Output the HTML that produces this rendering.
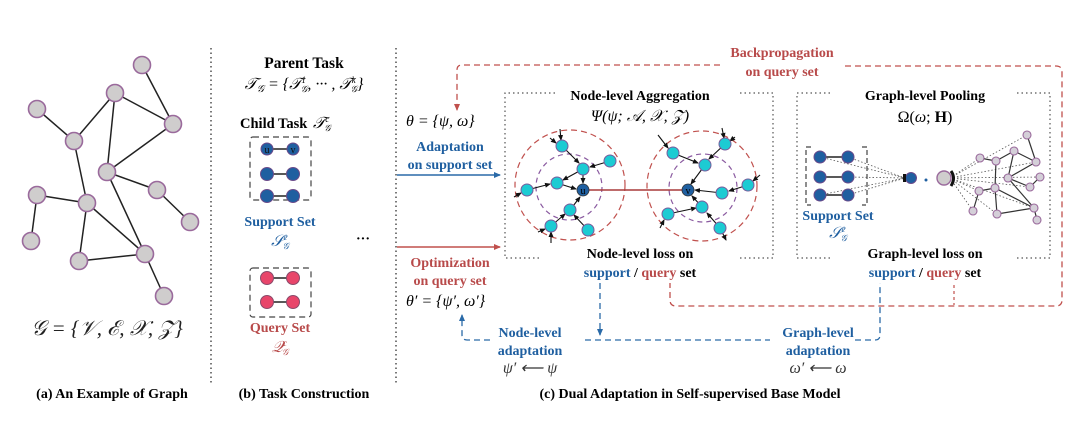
<!DOCTYPE html>
<html><head><meta charset="utf-8"><style>
html,body{margin:0;padding:0;background:#fff;}
svg{display:block;font-family:"Liberation Serif",serif;}
.b{font-weight:bold;font-size:14px;}
.m{font-style:italic;font-size:16px;}
</style></head><body>
<svg width="1080" height="423" viewBox="0 0 1080 423" xmlns="http://www.w3.org/2000/svg">
<defs>
<marker id="ak" markerWidth="6" markerHeight="6" refX="5" refY="3" orient="auto" markerUnits="userSpaceOnUse"><path d="M0,0.5 L6,3 L0,5.5z" fill="#111"/></marker>
<marker id="ab" markerWidth="7" markerHeight="7" refX="6" refY="3.5" orient="auto" markerUnits="userSpaceOnUse"><path d="M0,0.5 L7,3.5 L0,6.5z" fill="#2a6aa8"/></marker>
<marker id="ar" markerWidth="7" markerHeight="7" refX="6" refY="3.5" orient="auto" markerUnits="userSpaceOnUse"><path d="M0,0.5 L7,3.5 L0,6.5z" fill="#c0504d"/></marker>
</defs>

<line x1="211" y1="48" x2="211" y2="385" stroke="#333" stroke-width="1.3" stroke-dasharray="1.5,3"/>
<line x1="396" y1="48" x2="396" y2="385" stroke="#333" stroke-width="1.3" stroke-dasharray="1.5,3"/>

<g stroke="#222" stroke-width="1.5">
<line x1="142" y1="65" x2="173" y2="124"/><line x1="115" y1="93" x2="173" y2="124"/><line x1="115" y1="93" x2="74" y2="141"/><line x1="115" y1="93" x2="107" y2="172"/><line x1="37" y1="109" x2="74" y2="141"/><line x1="74" y1="141" x2="87" y2="203"/><line x1="107" y1="172" x2="173" y2="124"/><line x1="107" y1="172" x2="157" y2="190"/><line x1="157" y1="190" x2="190" y2="222"/><line x1="107" y1="172" x2="145" y2="254"/><line x1="37" y1="195" x2="87" y2="203"/><line x1="37" y1="195" x2="31" y2="241"/><line x1="87" y1="203" x2="145" y2="254"/><line x1="87" y1="203" x2="79" y2="261"/><line x1="79" y1="261" x2="145" y2="254"/><line x1="145" y1="254" x2="164" y2="296"/>
</g>
<g fill="#cfcdcd" stroke="#9a6a9c" stroke-width="1.6">
<circle cx="142" cy="65" r="8.5"/><circle cx="115" cy="93" r="8.5"/><circle cx="37" cy="109" r="8.5"/><circle cx="173" cy="124" r="8.5"/><circle cx="74" cy="141" r="8.5"/><circle cx="107" cy="172" r="8.5"/><circle cx="157" cy="190" r="8.5"/><circle cx="37" cy="195" r="8.5"/><circle cx="87" cy="203" r="8.5"/><circle cx="190" cy="222" r="8.5"/><circle cx="31" cy="241" r="8.5"/><circle cx="79" cy="261" r="8.5"/><circle cx="145" cy="254" r="8.5"/><circle cx="164" cy="296" r="8.5"/>
</g>
<text x="107" y="335" text-anchor="middle" font-size="21" font-style="italic" fill="#222">𝒢 = {𝒱, ℰ, 𝒳, 𝒵}</text>
<text x="112" y="398" text-anchor="middle" class="b">(a) An Example of Graph</text>

<text x="304" y="68" text-anchor="middle" font-weight="bold" font-size="15.5">Parent Task</text>
<text x="304" y="89" text-anchor="middle" class="m">𝒯<tspan font-size="10" dy="3">𝒢</tspan><tspan dy="-3"> = {𝒯</tspan><tspan font-size="9" dy="-6">1</tspan><tspan font-size="9" dx="-5" dy="9">𝒢</tspan><tspan dy="-3">, ··· , 𝒯</tspan><tspan font-size="9" dy="-6">k</tspan><tspan font-size="9" dx="-5" dy="9">𝒢</tspan><tspan dy="-3">}</tspan></text>
<text x="240" y="128" font-weight="bold" font-size="14.5">Child Task</text><text x="313" y="128" class="m">𝒯<tspan font-size="9" dy="-6">c</tspan><tspan font-size="9" dx="-5" dy="9">𝒢</tspan></text>
<rect x="250" y="137" width="61" height="63" rx="3" fill="none" stroke="#444" stroke-width="1.2" stroke-dasharray="6,4"/>
<g stroke="#222" stroke-width="1.5"><line x1="267" y1="149" x2="293" y2="149"/><line x1="267" y1="174" x2="293" y2="174"/><line x1="267" y1="196" x2="293" y2="196"/>
<line x1="267" y1="278" x2="293" y2="278"/><line x1="267" y1="302" x2="293" y2="302"/></g>
<g fill="#1f5fa0" stroke="#6a4a8a" stroke-width="1"><circle cx="267" cy="149" r="6"/><circle cx="293" cy="149" r="6"/><circle cx="267" cy="174" r="6.5"/><circle cx="293" cy="174" r="6.5"/><circle cx="267" cy="196" r="6.5"/><circle cx="293" cy="196" r="6.5"/></g>
<text x="267" y="153" text-anchor="middle" font-size="10" fill="#111">u</text><text x="293" y="153" text-anchor="middle" font-size="10" fill="#111">v</text>
<text x="280" y="226" text-anchor="middle" class="b" fill="#1f5fa0" font-size="14.5">Support Set</text>
<text x="280" y="246" text-anchor="middle" class="m" fill="#1f5fa0">𝒮<tspan font-size="9" dy="-6">c</tspan><tspan font-size="9" dx="-5" dy="9">𝒢</tspan></text>
<text x="363" y="243" text-anchor="middle" font-size="14" font-weight="bold">···</text>
<rect x="250" y="268" width="61" height="49" rx="3" fill="none" stroke="#444" stroke-width="1.2" stroke-dasharray="6,4"/>
<g fill="#e8456a" stroke="#8a4a6a" stroke-width="1"><circle cx="267" cy="278" r="6.5"/><circle cx="293" cy="278" r="6.5"/><circle cx="267" cy="302" r="6.5"/><circle cx="293" cy="302" r="6.5"/></g>
<text x="280" y="332" text-anchor="middle" class="b" fill="#b84a4a" font-size="14.5">Query Set</text>
<text x="280" y="352" text-anchor="middle" class="m" fill="#b84a4a">𝒬<tspan font-size="9" dy="-6">c</tspan><tspan font-size="9" dx="-5" dy="9">𝒢</tspan></text>
<text x="304" y="398" text-anchor="middle" class="b">(b) Task Construction</text>

<path d="M720,65 L462,65 Q457,65 457,70 L457,110" fill="none" stroke="#c0504d" stroke-width="1.3" stroke-dasharray="6,4" marker-end="url(#ar)"/>
<path d="M845,66 L1056,66 Q1062,66 1062,72 L1062,300 Q1062,306 1056,306 L676,306 Q670,306 670,300 L670,283" fill="none" stroke="#c0504d" stroke-width="1.3" stroke-dasharray="6,4"/>
<line x1="954" y1="285" x2="954" y2="305" stroke="#c0504d" stroke-width="1.2" stroke-dasharray="3,3"/>
<text x="782" y="57" text-anchor="middle" class="b" fill="#b84a4a">Backpropagation</text>
<text x="782" y="76" text-anchor="middle" class="b" fill="#b84a4a">on query set</text>

<text x="406" y="126" class="m" font-size="19">θ = {ψ, ω}</text>
<text x="450" y="151" text-anchor="middle" class="b" fill="#1f5fa0">Adaptation</text>
<text x="450" y="169" text-anchor="middle" class="b" fill="#1f5fa0">on support set</text>
<line x1="397" y1="175" x2="500" y2="175" stroke="#2a6aa8" stroke-width="1.5" marker-end="url(#ab)"/>
<line x1="397" y1="247" x2="500" y2="247" stroke="#c0504d" stroke-width="1.5" marker-end="url(#ar)"/>
<text x="450" y="267" text-anchor="middle" class="b" fill="#b84a4a">Optimization</text>
<text x="450" y="285" text-anchor="middle" class="b" fill="#b84a4a">on query set</text>
<text x="406" y="306" class="m" font-size="19">θ′ = {ψ′, ω′}</text>

<path d="M555,93 L505,93 L505,258 L540,258 M740,258 L773,258 L773,93 L740,93" fill="none" stroke="#555" stroke-width="1.2" stroke-dasharray="1.5,3"/>
<text x="640" y="100" text-anchor="middle" class="b" font-size="14.5">Node-level  Aggregation</text>
<text x="640" y="121" text-anchor="middle" class="m" font-size="17">Ψ(ψ; 𝒜, 𝒳, 𝒵)</text>
<circle cx="570" cy="185" r="55" fill="none" stroke="#c0504d" stroke-width="1.2" stroke-dasharray="6,4"/>
<circle cx="569" cy="187" r="33" fill="none" stroke="#8a5aa0" stroke-width="1.2" stroke-dasharray="5,4"/>
<circle cx="702" cy="186" r="55" fill="none" stroke="#c0504d" stroke-width="1.2" stroke-dasharray="6,4"/>
<circle cx="703" cy="188" r="34" fill="none" stroke="#8a5aa0" stroke-width="1.2" stroke-dasharray="5,4"/>
<line x1="583" y1="190" x2="688" y2="190" stroke="#a83a3a" stroke-width="1.6"/>
<g stroke="#111" stroke-width="1.1" marker-end="url(#ak)">
<line x1="562" y1="146" x2="579" y2="163"/><line x1="583" y1="169" x2="583" y2="183"/><line x1="610" y1="161" x2="590" y2="167"/><line x1="557" y1="183" x2="576" y2="189"/><line x1="527" y1="190" x2="550" y2="184"/><line x1="570" y1="210" x2="580" y2="197"/><line x1="551" y1="226" x2="565" y2="214"/><line x1="588" y1="230" x2="574" y2="215"/><line x1="583" y1="169" x2="563" y2="180"/>
<line x1="560" y1="129" x2="561" y2="140"/><line x1="550" y1="138" x2="556" y2="143"/><line x1="514" y1="197" x2="521" y2="193"/><line x1="538" y1="232" x2="545" y2="229"/><line x1="551" y1="243" x2="551" y2="232"/>
<line x1="673" y1="153" x2="698" y2="163"/><line x1="725" y1="144" x2="709" y2="159"/><line x1="705" y1="165" x2="691" y2="184"/><line x1="748" y1="185" x2="729" y2="191"/><line x1="722" y1="193" x2="695" y2="190"/><line x1="702" y1="207" x2="692" y2="196"/><line x1="668" y1="214" x2="696" y2="208"/><line x1="720" y1="228" x2="707" y2="213"/>
<line x1="658" y1="135" x2="668" y2="148"/><line x1="722" y1="128" x2="724" y2="138"/><line x1="735" y1="137" x2="730" y2="141"/><line x1="760" y1="175" x2="753" y2="181"/><line x1="660" y1="228" x2="664" y2="220"/><line x1="720" y1="228" x2="726" y2="240"/>
</g>
<g fill="#1ccbd3" stroke="#7a5a9c" stroke-width="1">
<circle cx="562" cy="146" r="6"/><circle cx="583" cy="169" r="6"/><circle cx="610" cy="161" r="6"/><circle cx="557" cy="183" r="6"/><circle cx="527" cy="190" r="6"/><circle cx="570" cy="210" r="6"/><circle cx="551" cy="226" r="6"/><circle cx="588" cy="230" r="6"/>
<circle cx="673" cy="153" r="6"/><circle cx="725" cy="144" r="6"/><circle cx="705" cy="165" r="6"/><circle cx="748" cy="185" r="6"/><circle cx="722" cy="193" r="6"/><circle cx="702" cy="207" r="6"/><circle cx="668" cy="214" r="6"/><circle cx="720" cy="228" r="6"/>
</g>
<circle cx="583" cy="190" r="6" fill="#1f5fa0" stroke="#333" stroke-width="0.8"/><text x="583" y="194" text-anchor="middle" font-size="10">u</text>
<circle cx="688" cy="190" r="6" fill="#1f5fa0" stroke="#333" stroke-width="0.8"/><text x="688" y="194" text-anchor="middle" font-size="10">v</text>
<text x="640" y="258" text-anchor="middle" class="b" font-size="14.5">Node-level  loss on</text>
<text x="640" y="277" text-anchor="middle" class="b" font-size="14.5"><tspan fill="#1f5fa0">support</tspan> / <tspan fill="#b84a4a">query</tspan> set</text>

<path d="M830,93 L797,93 L797,258 L830,258 M1017,258 L1050,258 L1050,93 L1017,93" fill="none" stroke="#555" stroke-width="1.2" stroke-dasharray="1.5,3"/>
<text x="925" y="100" text-anchor="middle" class="b" font-size="14.5">Graph-level  Pooling</text>
<text x="925" y="122" text-anchor="middle" font-size="16">Ω(<tspan font-style="italic">ω</tspan>; <tspan font-weight="bold">H</tspan>)</text>
<path d="M811,147 L806,147 L806,205 L811,205 M862,147 L867,147 L867,205 L862,205" fill="none" stroke="#444" stroke-width="1.2" stroke-dasharray="5,3"/>
<g stroke="#555" stroke-width="0.8" stroke-dasharray="1.5,2"><line x1="820" y1="157" x2="905" y2="178"/><line x1="848" y1="177" x2="905" y2="178"/><line x1="820" y1="195" x2="905" y2="178"/><line x1="848" y1="157" x2="905" y2="178"/><line x1="848" y1="195" x2="905" y2="178"/>
<line x1="950" y1="178" x2="1027" y2="135"/><line x1="950" y1="178" x2="980" y2="158"/><line x1="950" y1="178" x2="1036" y2="162"/><line x1="950" y1="178" x2="1040" y2="177"/><line x1="950" y1="178" x2="1030" y2="187"/><line x1="950" y1="178" x2="979" y2="191"/><line x1="950" y1="178" x2="973" y2="211"/><line x1="950" y1="178" x2="997" y2="214"/><line x1="950" y1="178" x2="1034" y2="208"/></g>
<g stroke="#222" stroke-width="1.4"><line x1="820" y1="157" x2="848" y2="157"/><line x1="820" y1="177" x2="848" y2="177"/><line x1="820" y1="195" x2="848" y2="195"/></g>
<g fill="#1f5fa0" stroke="#6a4a8a" stroke-width="1"><circle cx="820" cy="157" r="6"/><circle cx="848" cy="157" r="6"/><circle cx="820" cy="177" r="6"/><circle cx="848" cy="177" r="6"/><circle cx="820" cy="195" r="6"/><circle cx="848" cy="195" r="6"/>
<circle cx="911" cy="178" r="5.5"/></g>
<rect x="903" y="174" width="3" height="8" fill="#111"/>
<circle cx="926" cy="180" r="1.5" fill="#1f5fa0"/>
<path d="M951,171 Q956,178 951,186" fill="none" stroke="#111" stroke-width="3"/>
<circle cx="944" cy="178" r="7" fill="#cfcdcd" stroke="#9a6a9c" stroke-width="1.4"/>
<g stroke="#333" stroke-width="1.2">
<line x1="1027" y1="135" x2="1036" y2="162"/><line x1="1014" y1="151" x2="1036" y2="162"/><line x1="1014" y1="151" x2="996" y2="161"/><line x1="1014" y1="151" x2="1008" y2="178"/><line x1="980" y1="158" x2="996" y2="161"/><line x1="996" y1="161" x2="995" y2="188"/><line x1="1008" y1="178" x2="1036" y2="162"/><line x1="1008" y1="178" x2="1030" y2="187"/><line x1="1030" y1="187" x2="1040" y2="177"/><line x1="1008" y1="178" x2="1034" y2="208"/><line x1="979" y1="191" x2="995" y2="188"/><line x1="979" y1="191" x2="973" y2="211"/><line x1="995" y1="188" x2="1034" y2="208"/><line x1="995" y1="188" x2="997" y2="214"/><line x1="997" y1="214" x2="1034" y2="208"/><line x1="1034" y1="208" x2="1037" y2="220"/>
</g>
<g fill="#d4cfd8" stroke="#9a6a9c" stroke-width="1.1">
<circle cx="1027" cy="135" r="4"/><circle cx="980" cy="158" r="4"/><circle cx="996" cy="161" r="4"/><circle cx="1014" cy="151" r="4"/><circle cx="1036" cy="162" r="4"/><circle cx="1008" cy="178" r="4"/><circle cx="1040" cy="177" r="4"/><circle cx="1030" cy="187" r="4"/><circle cx="979" cy="191" r="4"/><circle cx="995" cy="188" r="4"/><circle cx="973" cy="211" r="4"/><circle cx="997" cy="214" r="4"/><circle cx="1034" cy="208" r="4"/><circle cx="1037" cy="220" r="4"/>
</g>
<text x="838" y="220" text-anchor="middle" class="b" fill="#1f5fa0" font-size="14.5">Support Set</text>
<text x="838" y="238" text-anchor="middle" class="m" fill="#1f5fa0">𝒮<tspan font-size="9" dy="-6">c</tspan><tspan font-size="9" dx="-5" dy="9">𝒢</tspan></text>
<text x="925" y="258" text-anchor="middle" class="b" font-size="14.5">Graph-level  loss on</text>
<text x="925" y="277" text-anchor="middle" class="b" font-size="14.5"><tspan fill="#1f5fa0">support</tspan> / <tspan fill="#b84a4a">query</tspan> set</text>

<g fill="none" stroke="#2a6aa8" stroke-width="1.3" stroke-dasharray="6,4">
<path d="M600,283 L600,335" marker-end="url(#ab)"/>
<path d="M490,340 L467,340 Q462,340 462,335 L462,315" marker-end="url(#ab)"/>
<path d="M585,340 L770,340"/>
<path d="M855,340 L875,340 Q880,340 880,335 L880,283"/>
</g>
<text x="530" y="337" text-anchor="middle" class="b" fill="#1f5fa0">Node-level</text>
<text x="530" y="355" text-anchor="middle" class="b" fill="#1f5fa0">adaptation</text>
<text x="530" y="373" text-anchor="middle" class="m" font-size="15" fill="#333">ψ′ ⟵ ψ</text>
<text x="818" y="337" text-anchor="middle" class="b" fill="#1f5fa0">Graph-level</text>
<text x="818" y="355" text-anchor="middle" class="b" fill="#1f5fa0">adaptation</text>
<text x="818" y="373" text-anchor="middle" class="m" font-size="15" fill="#333">ω′ ⟵ ω</text>
<text x="690" y="398" text-anchor="middle" class="b">(c) Dual Adaptation in Self-supervised Base Model</text>
</svg>
</body></html>
